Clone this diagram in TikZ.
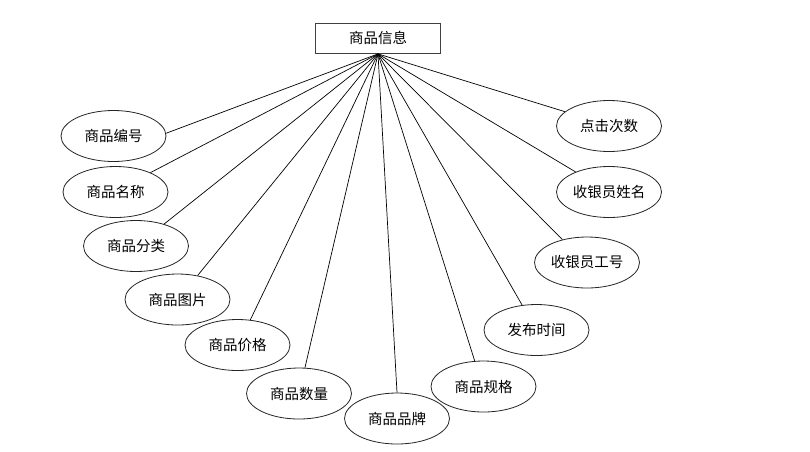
\documentclass[tikz,border=0pt]{standalone}
\usepackage{fontspec}
\setmainfont{Noto Sans CJK SC}
\usetikzlibrary{shapes.geometric}
\begin{document}
\begin{tikzpicture}[x=1pt,y=-1pt,
  ent/.style={draw=black!75,line width=1.2pt,rectangle,minimum width=125pt,minimum height=30pt,inner sep=0pt,font=\fontsize{14.5}{16}\selectfont},
  attr/.style={draw=black!85,line width=0.8pt,ellipse,minimum width=105pt,minimum height=51pt,inner sep=0pt,fill=white,font=\fontsize{14.5}{16}\selectfont},
  link/.style={draw=black,line width=0.7pt}]
\useasboundingbox (0,0) rectangle (810,451);
\node[ent] (top) at (378,38.3) {商品信息};
\node[attr] (a1) at (113.5,136) {商品编号};
\node[attr] (a2) at (115.5,192) {商品名称};
\node[attr] (a3) at (136,246) {商品分类};
\node[attr] (a4) at (177.5,299.5) {商品图片};
\node[attr] (a5) at (237.5,345) {商品价格};
\node[attr] (a6) at (299,393.5) {商品数量};
\node[attr] (a7) at (397,418.5) {商品品牌};
\node[attr] (a8) at (483.5,386.5) {商品规格};
\node[attr] (a9) at (536.5,330) {发布时间};
\node[attr] (a10) at (587,262.5) {收银员工号};
\node[attr] (a11) at (609,192) {收银员姓名};
\node[attr] (a12) at (609,126) {点击次数};
\foreach \i/\ang in {1/3,2/29,3/38,4/50,5/63,6/77,7/90,8/109,9/120,10/137,11/149,12/162}
  \draw[link] (top.south) -- (a\i.\ang);
\end{tikzpicture}
\end{document}
